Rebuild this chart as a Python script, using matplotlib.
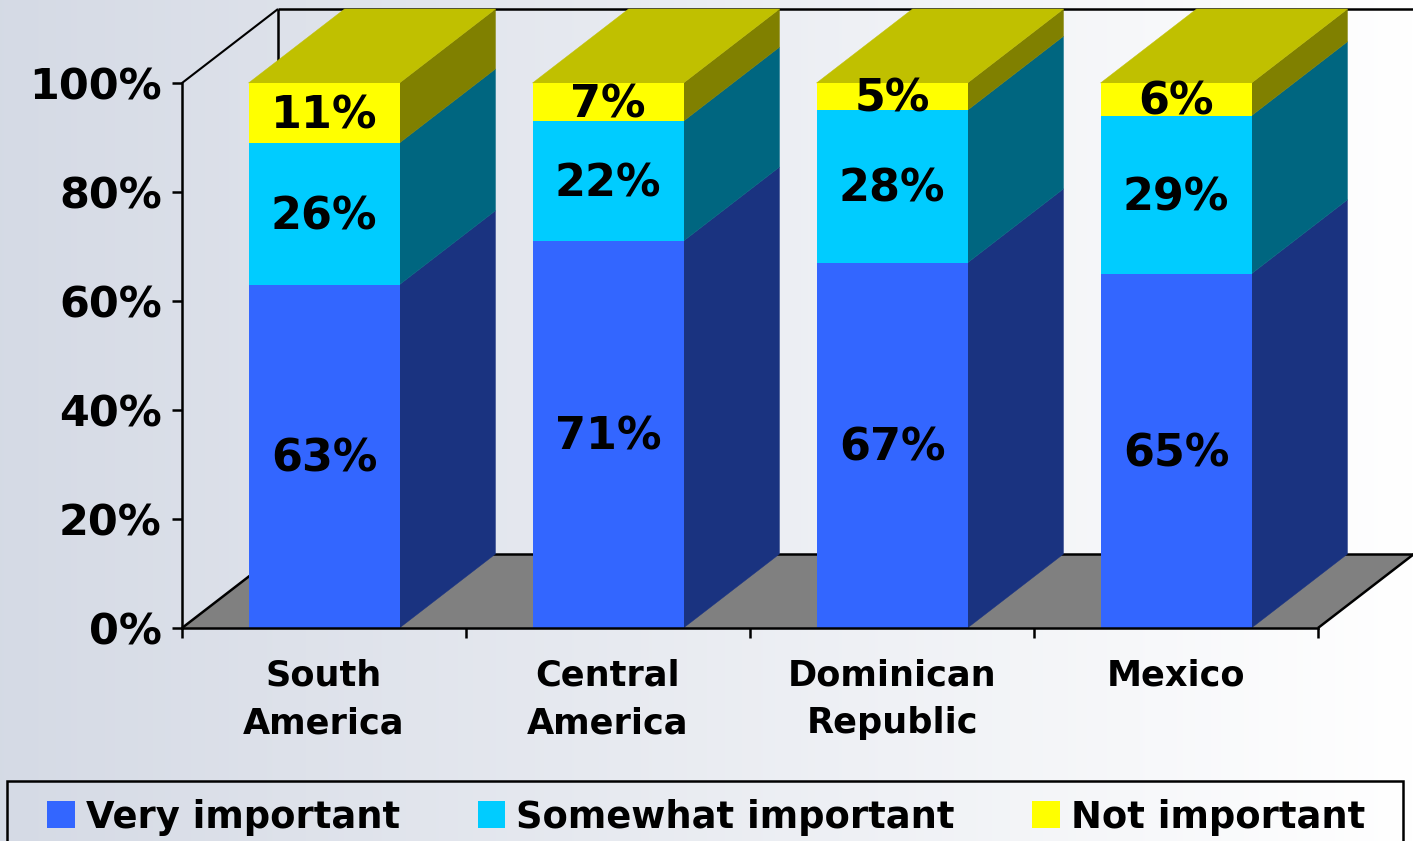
import numpy as np
import matplotlib
matplotlib.use("Agg")
import matplotlib.pyplot as plt
from matplotlib.patches import Polygon, Rectangle

plt.rcParams['font.family'] = ['DejaVu Sans']
plt.rcParams['font.weight'] = 'bold'

categories = ["South\nAmerica", "Central\nAmerica", "Dominican\nRepublic", "Mexico"]
very_important = [63, 71, 67, 65]
somewhat_important = [26, 22, 28, 29]
not_important = [11, 7, 5, 6]
series_names = ["Very important", "Somewhat important", "Not important"]
y_ticks = [0, 20, 40, 60, 80, 100]
y_tick_labels = ["0%", "20%", "40%", "60%", "80%", "100%"]

front_colors = ["#3366FF", "#00CCFF", "#FFFF00"]
side_colors = ["#1A3380", "#006680", "#808000"]
top_color = "#C0C000"
floor_color = "#808080"

W, H = 1413, 841
fig = plt.figure(figsize=(W / 100, H / 100), dpi=100)

bg = fig.add_axes([0, 0, 1, 1], zorder=-5)
c0 = np.array([0.835, 0.855, 0.898])
c1 = np.array([1.0, 1.0, 1.0])
t = np.linspace(0, 1, 512)[None, :, None]
bg.imshow(c0 + (c1 - c0) * t, aspect='auto', extent=[0, 1, 0, 1])
bg.axis('off')

ax = fig.add_axes([182 / W, (H - 628) / H, 1136 / W, 545 / H])
ax.patch.set_alpha(0)
ax.set_xlim(0, 4)
ax.set_ylim(0, 100)
for s in ['top', 'right']:
    ax.spines[s].set_visible(False)
for s in ['left', 'bottom']:
    ax.spines[s].set_linewidth(1.8)
    ax.spines[s].set_zorder(30)

DX = 96 / 284
DY = 74 / 5.45
BW = 151 / 284

# floor and back walls
ax.add_patch(Polygon([(0, 0), (4, 0), (4 + DX, DY), (DX, DY)], closed=True,
                     fc=floor_color, ec='none', clip_on=False, zorder=1))
line_kw = dict(color='black', clip_on=False, zorder=2, solid_capstyle='butt')
ax.plot([0, DX], [0, DY], lw=1.8, **line_kw)
ax.plot([4, 4 + DX], [0, DY], lw=1.8, **line_kw)
ax.plot([DX, 4 + DX], [DY, DY], lw=1.8, **line_kw)
ax.plot([DX, 4 + DX], [100 + DY, 100 + DY], lw=1.8, **line_kw)
ax.plot([DX, DX], [DY, 100 + DY], lw=1.8, **line_kw)
ax.plot([0, DX], [100, 100 + DY], lw=1.5, **line_kw)

x = np.arange(len(categories)) + 0.5
series = [very_important, somewhat_important, not_important]
bottom = np.zeros(len(categories))
for vals, fc, sc in zip(series, front_colors, side_colors):
    vals = np.array(vals, float)
    ax.bar(x, vals, BW, bottom=bottom, color=fc, zorder=5, lw=0)
    for xi, b, v in zip(x, bottom, vals):
        xr = xi + BW / 2
        ax.add_patch(Polygon([(xr, b), (xr + DX, b + DY), (xr + DX, b + v + DY), (xr, b + v)],
                             closed=True, fc=sc, ec=sc, lw=0.3, clip_on=False, zorder=4))
        ax.annotate(f"{int(v)}%", (xi, b + v / 2), xytext=(0, -2), textcoords='offset points',
                    ha='center', va='center', fontsize=32, fontweight='bold',
                    color='black', zorder=10)
    bottom = bottom + vals
for xi, b in zip(x, bottom):
    xl, xr = xi - BW / 2, xi + BW / 2
    ax.add_patch(Polygon([(xl, b), (xr, b), (xr + DX, b + DY), (xl + DX, b + DY)],
                         closed=True, fc=top_color, ec=top_color, lw=0.3, clip_on=False, zorder=4))

ax.set_yticks(y_ticks)
ax.set_yticklabels(y_tick_labels, fontsize=31, fontweight='bold')
ax.tick_params(axis='y', length=7.5, width=1.8, pad=7)
ax.set_xticks(np.arange(5))
ax.set_xticklabels([])
ax.tick_params(axis='x', which='major', length=7.5, width=1.8)
ax.set_xticks(x, minor=True)
ax.set_xticklabels(categories, minor=True, fontsize=25.3, fontweight='bold',
                   linespacing=1.5, va='top')
ax.tick_params(axis='x', which='minor', length=0, pad=22)

# legend
handles = [Rectangle((0, 0), 1, 1, fc=c, ec='none') for c in front_colors]
fig.add_artist(Rectangle((7 / W, -0.05), 1396 / W, (H - 781) / H + 0.05, fc='none', ec='black',
                         lw=1.8, transform=fig.transFigure))
fig.legend(handles, series_names, ncol=3, loc='lower left',
           bbox_to_anchor=(47 / W, 5.5 / H), frameon=False, fontsize=26.6,
           borderpad=0, borderaxespad=0, handlelength=0.75, handleheight=0.75,
           handletextpad=0.3, columnspacing=2.1)

fig.savefig("out.png", dpi=100)
